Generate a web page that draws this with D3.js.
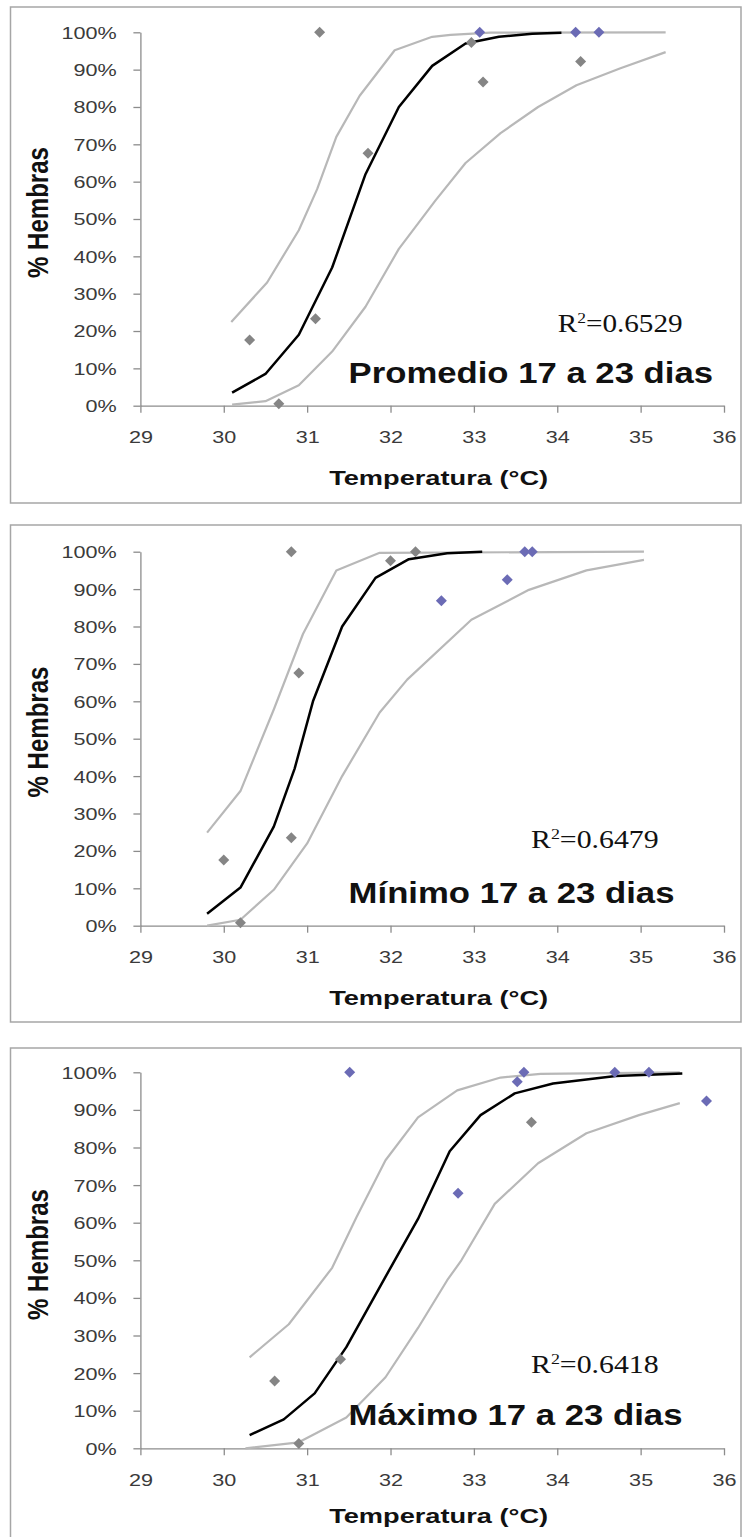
<!DOCTYPE html>
<html>
<head>
<meta charset="utf-8">
<script src="https://cdn.jsdelivr.net/npm/d3@7"></script>
<style>
  body { margin: 0; background: #fff; }
</style>
</head>
<body>
<div id="chart"></div>
<script>
// ---- data ----
const xTicks = [29, 30, 31, 32, 33, 34, 35, 36];
const yTicks = [0, 10, 20, 30, 40, 50, 60, 70, 80, 90, 100];

const panelTitles = ['Promedio 17 a 23 dias', 'Mínimo 17 a 23 dias', 'Máximo 17 a 23 dias'];
const r2Values = ['0.6529', '0.6479', '0.6418'];

// observed points: [temperature, % females, colour group]
const promedioPoints = [
    [31.15, 100, 'g'], [31.73, 67.6, 'g'], [32.97, 97.3, 'g'], [33.07, 100, 'b'],
    [33.11, 86.7, 'g'], [34.22, 100, 'b'], [34.50, 100, 'b'], [34.28, 92.2, 'g'],
    [30.31, 17.6, 'g'], [31.10, 23.3, 'g'], [30.66, 0.5, 'g']
];
const minimoPoints = [
    [30.81, 100, 'g'], [30.90, 67.6, 'g'], [32.00, 97.6, 'g'], [32.30, 100, 'g'],
    [32.61, 86.9, 'b'], [33.40, 92.5, 'b'], [33.61, 100, 'b'], [33.70, 100, 'b'],
    [30.00, 17.6, 'g'], [30.81, 23.5, 'g'], [30.20, 0.8, 'g']
];
const maximoPoints = [
    [31.51, 100, 'b'], [33.52, 97.5, 'b'], [33.60, 100, 'b'], [33.69, 86.7, 'g'],
    [32.81, 67.8, 'b'], [34.69, 100, 'b'], [35.10, 100, 'b'], [35.79, 92.4, 'b'],
    [30.61, 17.9, 'g'], [31.40, 23.7, 'g'], [30.90, 1.3, 'g']
];

// fitted curve and its two bands: [temperature, %]
const promedioFit = [
    [30.1, 3.5], [30.5, 8.5], [30.9, 19], [31.3, 37], [31.7, 62], [32.1, 80],
    [32.5, 91], [32.9, 97], [33.3, 98.8], [33.7, 99.6], [34.05, 99.9]
];
const promedioUpper = [
    [30.09, 22.4], [30.52, 33], [30.9, 47], [31.12, 58], [31.35, 72], [31.63, 83],
    [32.05, 95.2], [32.5, 98.8], [32.72, 99.3], [33.2, 99.9], [35.3, 100]
];
const promedioLower = [
    [30.1, 0.3], [30.5, 1.2], [30.9, 5.5], [31.3, 14.5], [31.7, 26.5], [32.1, 42],
    [32.54, 55], [32.9, 65], [33.32, 73], [33.77, 80], [34.23, 85.8], [34.75, 90.3], [35.3, 94.7]
];

const minimoFit = [
    [29.8, 3.2], [30.2, 10.2], [30.6, 26.5], [30.85, 42], [31.07, 60], [31.42, 80],
    [31.82, 93], [32.22, 98], [32.68, 99.6], [33.1, 100]
];
const minimoUpper = [
    [29.8, 24.9], [30.2, 36], [30.6, 57.8], [30.95, 78], [31.35, 95], [31.87, 99.7], [35.04, 100]
];
const minimoLower = [
    [29.8, 0], [30.2, 1.6], [30.6, 9.6], [31.0, 22], [31.42, 40], [31.87, 57], [32.2, 65.8],
    [32.97, 81.8], [33.66, 89.8], [34.35, 95], [35.04, 97.8]
];

const maximoFit = [
    [30.31, 3.5], [30.72, 7.7], [31.09, 14.6], [31.47, 26.9], [32.0, 48], [32.33, 61],
    [32.71, 79], [33.08, 88.6], [33.49, 94.4], [33.95, 97], [34.7, 99], [35.5, 99.7]
];
const maximoUpper = [
    [30.31, 24.2], [30.78, 33], [31.3, 48], [31.59, 61.4], [31.94, 76.6], [32.33, 88],
    [32.8, 95.2], [33.32, 98.6], [33.8, 99.6], [35.47, 100]
];
const maximoLower = [
    [30.26, 0], [30.9, 1.6], [31.47, 8.2], [31.94, 18.9], [32.33, 32], [32.68, 44.7],
    [32.85, 50], [33.25, 65], [33.77, 75.8], [34.35, 83.8], [34.98, 88.6], [35.47, 91.8]
];

// ---- layout ----
const config = {
    width: 751,
    height: 1537,
    frameLeft: 10.5,
    frameRight: 741,
    plotLeft: 140.4,
    plotRight: 724,
    sans: "'Liberation Sans', Arial, sans-serif",
    serif: "'Liberation Serif', 'Times New Roman', serif"
};

const panels = [
    { points: promedioPoints, fit: promedioFit, upper: promedioUpper, lower: promedioLower,
      frameTop: 7, frameBottom: 503, yTop: 32.3, yBottom: 405.7,
      r2: [557.7, 331.7, 125], title: [348.6, 383.3, 364.5], xTitle: 485, yTitle: 212.5 },
    { points: minimoPoints, fit: minimoFit, upper: minimoUpper, lower: minimoLower,
      frameTop: 525, frameBottom: 1022, yTop: 551.7, yBottom: 925.7,
      r2: [531, 848.3, 127.7], title: [348.6, 903.3, 326], xTitle: 1005, yTitle: 732 },
    { points: maximoPoints, fit: maximoFit, upper: maximoUpper, lower: maximoLower,
      frameTop: 1048, frameBottom: 1580, yTop: 1072.3, yBottom: 1448.3,
      r2: [531, 1373.3, 127.7], title: [348.6, 1425, 334], xTitle: 1522.5, yTitle: 1254.5 }
];

const pointColor = { g: '#858585', b: '#6b6bb5' };
const tickStretch = 1.31;

const svg = d3.select('#chart')
    .append('svg')
    .attr('width', config.width)
    .attr('height', config.height)
    .style('display', 'block')
    .style('background', '#fff');

// squeeze/stretch a text horizontally so it covers a given width
function fitWidth(text, x, y, width) {
    const len = text.node().getComputedTextLength();
    text.attr('transform', `translate(${x},${y}) scale(${width / len},1)`);
}

const xScale = d3.scaleLinear()
    .domain([29, 36])
    .range([config.plotLeft, config.plotRight]);

panels.forEach((p, i) => {
    const g = svg.append('g');

    g.append('rect')
        .attr('x', config.frameLeft)
        .attr('y', p.frameTop)
        .attr('width', config.frameRight - config.frameLeft)
        .attr('height', p.frameBottom - p.frameTop)
        .attr('fill', 'none')
        .attr('stroke', '#a6a6a6')
        .attr('stroke-width', 1.5);

    const yScale = d3.scaleLinear()
        .domain([0, 100])
        .range([p.yBottom, p.yTop]);

    // axes
    const xAxis = g.append('g')
        .attr('transform', `translate(0,${p.yBottom})`)
        .call(d3.axisBottom(xScale).tickValues(xTicks).tickFormat(d3.format('d')).tickSize(7).tickSizeOuter(0));

    const yAxis = g.append('g')
        .attr('transform', `translate(${config.plotLeft},0)`)
        .call(d3.axisLeft(yScale).tickValues(yTicks).tickFormat(d => d + '%').tickSize(7).tickSizeOuter(0));

    [xAxis, yAxis].forEach(ax => {
        ax.attr('font-family', config.sans).attr('font-size', 16.5);
        ax.select('.domain').attr('stroke', '#8c8c8c').attr('stroke-width', 1.3);
        ax.selectAll('.tick line').attr('stroke', '#8c8c8c').attr('stroke-width', 1.3);
        ax.selectAll('.tick text').attr('fill', '#3a3a3a');
    });

    xAxis.selectAll('.tick text')
        .attr('y', 0)
        .attr('dy', 0)
        .attr('transform', `translate(0,37.3) scale(${tickStretch},1)`);

    yAxis.selectAll('.tick text')
        .attr('x', 0)
        .attr('dy', '0.36em')
        .attr('transform', `translate(-23.6,0) scale(${tickStretch},1)`);

    // curves
    const line = d3.line()
        .x(d => xScale(d[0]))
        .y(d => yScale(d[1]));

    [p.upper, p.lower].forEach(band => {
        g.append('path')
            .datum(band)
            .attr('fill', 'none')
            .attr('stroke', '#b8b8b8')
            .attr('stroke-width', 2.2)
            .attr('stroke-linejoin', 'round')
            .attr('d', line);
    });

    g.append('path')
        .datum(p.fit)
        .attr('fill', 'none')
        .attr('stroke', '#000')
        .attr('stroke-width', 2.5)
        .attr('stroke-linejoin', 'round')
        .attr('d', line);

    // observed points
    g.append('g')
        .selectAll('path')
        .data(p.points)
        .join('path')
        .attr('d', 'M0,-5.5L5.5,0L0,5.5L-5.5,0Z')
        .attr('transform', d => `translate(${xScale(d[0])},${yScale(d[1])})`)
        .attr('fill', d => pointColor[d[2]]);

    // R² label
    const r2 = g.append('text')
        .attr('font-family', config.serif)
        .attr('font-size', 25)
        .attr('fill', '#111');
    r2.append('tspan').text('R');
    r2.append('tspan').attr('font-size', 15).attr('dy', -9).text('2');
    r2.append('tspan').attr('dy', 9).text('=' + r2Values[i]);
    fitWidth(r2, p.r2[0], p.r2[1], p.r2[2]);

    // panel title
    const title = g.append('text')
        .attr('font-family', config.sans)
        .attr('font-weight', 'bold')
        .attr('font-size', 30)
        .attr('fill', '#111')
        .text(panelTitles[i]);
    fitWidth(title, p.title[0], p.title[1], p.title[2]);

    // axis titles
    const xt = g.append('text')
        .attr('font-family', config.sans)
        .attr('font-weight', 'bold')
        .attr('font-size', 21)
        .attr('fill', '#111')
        .attr('text-anchor', 'middle')
        .text('Temperatura (°C)');
    fitWidth(xt, 438.6, p.xTitle, 219);

    const yt = g.append('text')
        .attr('font-family', config.sans)
        .attr('font-weight', 'bold')
        .attr('font-size', 22)
        .attr('fill', '#111')
        .attr('text-anchor', 'middle')
        .text('% Hembras');
    const ylen = yt.node().getComputedTextLength();
    yt.attr('transform', `translate(48,${p.yTitle}) scale(1.37,${131 / ylen}) rotate(-90)`);
});
</script>
</body>
</html>
